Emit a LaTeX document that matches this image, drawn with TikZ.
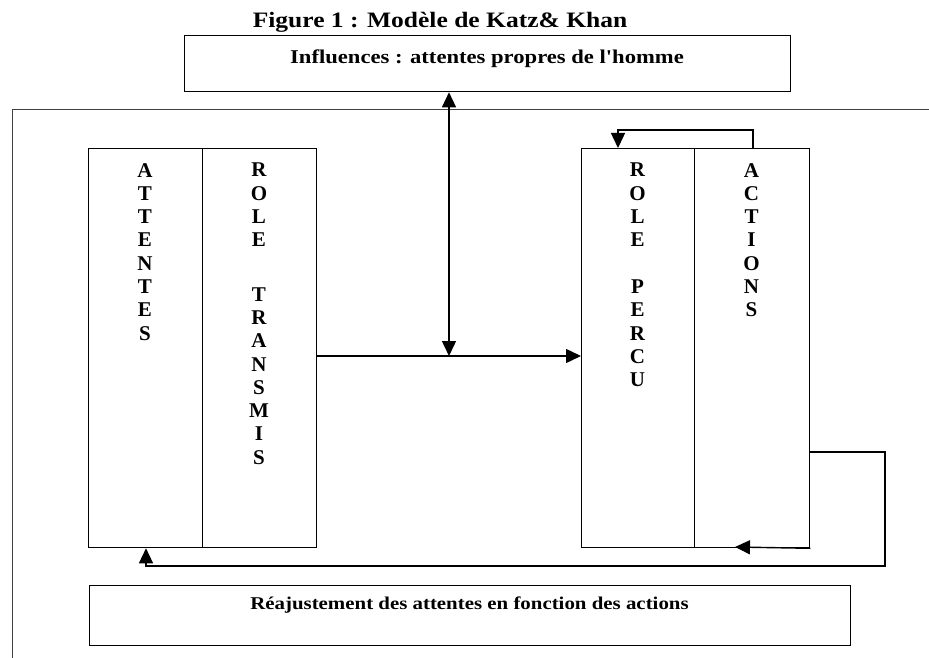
\documentclass[tikz,border=0pt]{standalone}
\usepackage{fontspec}
\setmainfont{Liberation Serif}
\newfontfamily\widefont[FakeStretch=1.16]{Liberation Serif}
\usetikzlibrary{arrows.meta}
\tikzset{
  box/.style={draw, line width=1.3pt, inner sep=0pt, anchor=north west},
  col/.style={font=\bfseries\fontsize{21}{23.3}\selectfont, align=center, inner sep=0pt, anchor=north},
  lab/.style={inner sep=0pt, anchor=base},
  arr/.style={line width=1.4pt, -{Triangle[length=15pt,width=14pt]}},
  darr/.style={line width=1.4pt, {Triangle[length=15pt,width=14pt]}-{Triangle[length=15pt,width=14pt]}},
  framel/.style={line width=1pt, draw=black!75},
}
\begin{document}
\begin{tikzpicture}[x=1pt,y=-1pt]
\useasboundingbox (0,0) rectangle (929,658);
% title
\node[lab, font=\widefont\bfseries\fontsize{22}{24}\selectfont] (title) at (440,28) {Figure 1 : Modèle de Katz\& Khan};
% top box
\node[box, minimum width=606pt, minimum height=56pt] (inf) at (184,35) {};
\node[lab, font=\widefont\bfseries\fontsize{19.5}{21}\selectfont] (inft) at (487,64) {Influences : attentes propres de l'homme};
% outer frame
\draw[framel] (12,658) -- (12,110) -- (929,110);
% left boxes
\node[box, minimum width=114pt, minimum height=399pt] (att) at (88,148) {};
\node[box, minimum width=114pt, minimum height=399pt] (rt) at (202,148) {};
% right boxes
\node[box, minimum width=113pt, minimum height=399pt] (rp) at (581,148) {};
\node[box, minimum width=115pt, minimum height=399pt] (act) at (694,148) {};
% column texts
\node[col] (attt) at (145,163) {A\\T\\T\\E\\N\\T\\E\\S};
\node[col] (rtt) at (259,163) {R\\O\\L\\E\\[31pt]T\\R\\A\\N\\S\\M\\I\\S};
\node[col] (rpt) at (637.5,163) {R\\O\\L\\E\\[23.5pt]P\\E\\R\\C\\U};
\node[col] (actt) at (751.5,163) {A\\C\\T\\I\\O\\N\\S};
% bottom box
\node[box, minimum width=761pt, minimum height=60pt] (rea) at (89,585) {};
\node[lab, font=\widefont\bfseries\fontsize{18}{20}\selectfont] (reat) at (469.5,609) {Réajustement des attentes en fonction des actions};
% connectors
\coordinate (j) at (449,356);
\draw[arr] (rt.east |- j) -- (rp.west |- j);
\draw[darr] (inf.south -| j) -- (j);
\coordinate (t1) at (753,130);
\coordinate (t2) at (618,130);
\draw[arr] (act.north -| t1) -- (t1) -- (t2) -- (rp.north -| t2);
\coordinate (r0) at (809,452);
\coordinate (r1) at (885,452);
\coordinate (r2) at (885,566);
\coordinate (b1) at (146,566);
\draw[arr] (r0) -- (r1) -- (r2) -- (b1) -- (att.south -| b1);
\coordinate (ab) at (735,547);
\draw[arr] (act.south east) -- (ab);
\end{tikzpicture}
\end{document}
